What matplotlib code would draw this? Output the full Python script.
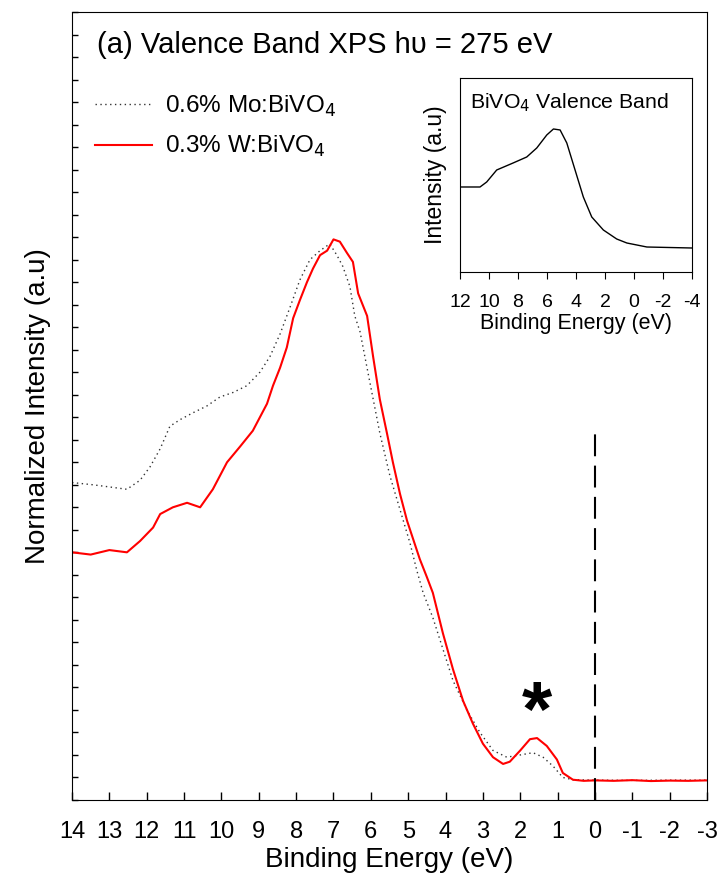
import matplotlib
matplotlib.use('Agg')
import matplotlib.pyplot as plt
import numpy as np

plt.rcParams['font.family'] = ['Liberation Sans', 'DejaVu Sans']

# 0.3% W:BiVO4 (red)
w_x = [14.0, 13.5, 13.0, 12.53, 12.18, 11.83, 11.64, 11.3, 10.92, 10.57, 10.23, 9.85, 9.5,
       9.16, 8.97, 8.78, 8.62, 8.43, 8.25, 8.08, 7.9, 7.71, 7.55, 7.36, 7.17, 7.0, 6.83,
       6.64, 6.48, 6.34, 6.1, 5.94, 5.76, 5.57, 5.41, 5.22, 5.03, 4.87, 4.69, 4.5, 4.34,
       4.07, 3.8, 3.53, 3.27, 3.0, 2.73, 2.46, 2.28, 2.0, 1.74, 1.55, 1.29, 1.02, 0.86,
       0.59, 0.3, 0.0, -0.5, -1.0, -1.5, -2.0, -2.5, -3.0]
w_y = [11.0, 10.9, 11.1, 11.0, 11.5, 12.1, 12.7, 13.0, 13.2, 13.0, 13.8, 15.0, 15.7,
       16.4, 17.0, 17.6, 18.4, 19.2, 20.1, 21.4, 22.2, 23.0, 23.6, 24.2, 24.4, 24.9, 24.8,
       24.3, 23.9, 22.5, 21.5, 19.7, 17.8, 16.3, 15.0, 13.6, 12.4, 11.6, 10.7, 9.9, 9.2,
       7.4, 5.8, 4.4, 3.4, 2.5, 1.9, 1.6, 1.7, 2.2, 2.7, 2.75, 2.4, 1.8, 1.2,
       0.9, 0.85, 0.87, 0.85, 0.88, 0.84, 0.86, 0.85, 0.87]

# 0.6% Mo:BiVO4 (dotted black)
mo_x = [14.0, 13.44, 12.98, 12.53, 12.18, 11.91, 11.64, 11.38, 11.1, 10.76, 10.39, 10.04,
        9.69, 9.32, 8.97, 8.7, 8.43, 8.16, 7.9, 7.63, 7.36, 7.1, 6.91, 6.75, 6.56, 6.43,
        6.29, 6.02, 5.76, 5.49, 5.22, 4.95, 4.77, 4.6, 4.34, 4.07, 3.8, 3.43, 3.08, 2.73,
        2.36, 2.0, 1.66, 1.39, 1.12, 0.86, 0.59, 0.0, -1.0, -2.0, -3.0]
mo_y = [14.1, 14.0, 13.9, 13.8, 14.2, 14.8, 15.6, 16.6, 16.9, 17.2, 17.5, 17.9,
        18.1, 18.4, 19.0, 19.7, 20.7, 21.9, 23.1, 24.0, 24.4, 24.7, 24.2, 23.7, 22.8, 21.5,
        20.8, 18.5, 16.3, 14.4, 12.9, 11.4, 10.2, 9.2, 8.1, 6.7, 5.3, 4.0, 3.0, 2.2,
        1.9, 2.0, 2.1, 1.9, 1.5, 1.0, 0.9, 0.88, 0.87, 0.88, 0.88]

# inset: BiVO4 valence band
in_x = [12.0, 10.62, 10.16, 9.47, 8.34, 7.4, 6.71, 6.02, 5.56, 5.1, 4.64, 4.07, 3.5,
        2.92, 2.12, 1.2, 0.5, -0.88, -4.0]
in_y = [8.5, 8.5, 9.0, 10.2, 10.9, 11.5, 12.4, 13.7, 14.3, 14.2, 12.9, 10.2, 7.5,
        5.5, 4.2, 3.3, 2.9, 2.5, 2.4]

fig = plt.figure(figsize=(7.21, 8.82), dpi=100)
ax = fig.add_axes([0.0999, 0.093, 0.8807, 0.8934])

ax.plot(mo_x, mo_y, color='#333333', linestyle=(0, (1, 2.5)), linewidth=1.0,
        label='0.6% Mo:BiVO$_4$')
ax.plot(w_x, w_y, color='red', linewidth=1.5, label='0.3% W:BiVO$_4$')
ax.axvline(0, ymin=0, ymax=0.473, color='black', linestyle=(0, (10.5, 4.5)), linewidth=1.5)

ax.set_xlim(14, -3)
ax.set_ylim(0, 35)
ax.set_xticks(np.arange(14, -4, -1))
ax.set_xticklabels([str(v) for v in range(14, -4, -1)], fontsize=17)
ax.set_yticks(np.arange(0, 36, 1))
ax.set_yticklabels([])
ax.tick_params(axis='both', direction='in', length=6, width=1)
ax.tick_params(axis='x', pad=15)
ax.tick_params(axis='y', length=4)
ax.set_xlabel('Binding Energy (eV)', fontsize=20, labelpad=3)
ax.set_ylabel('Normalized Intensity (a.u)', fontsize=20, labelpad=12)

ax.text(0.04, 0.958, '(a) Valence Band XPS h\u03c5 = 275 eV', transform=ax.transAxes,
        fontsize=21, va='center', ha='left')
ax.text(1.55, 2.85, '*', fontsize=56, fontweight='bold', ha='center', va='baseline')

ax.legend(loc='upper left', bbox_to_anchor=(0.036, 0.896), frameon=False, fontsize=17.5,
          borderpad=0, borderaxespad=0, handlelength=2.35, handletextpad=0.55,
          labelspacing=0.62)

# inset
ins = fig.add_axes([0.638, 0.6916, 0.322, 0.22])
ins.plot(in_x, in_y, color='black', linewidth=1.0)
ins.set_xlim(12, -4)
ins.set_ylim(0, 19.4)
ins.set_xticks(np.arange(12, -5, -2))
ins.set_xticklabels([str(v) for v in range(12, -5, -2)], fontsize=14)
ins.set_yticks([])
ins.tick_params(axis='x', direction='out', length=5, pad=11)
ins.set_xlabel('Binding Energy (eV)', fontsize=15.5, labelpad=1)
ins.set_ylabel('Intensity (a.u)', fontsize=16.5, labelpad=9)
ins.text(0.045, 0.87, 'BiVO$_4$ Valence Band', transform=ins.transAxes, fontsize=15.3,
         va='center', ha='left')

fig.savefig('out.png', dpi=100)
